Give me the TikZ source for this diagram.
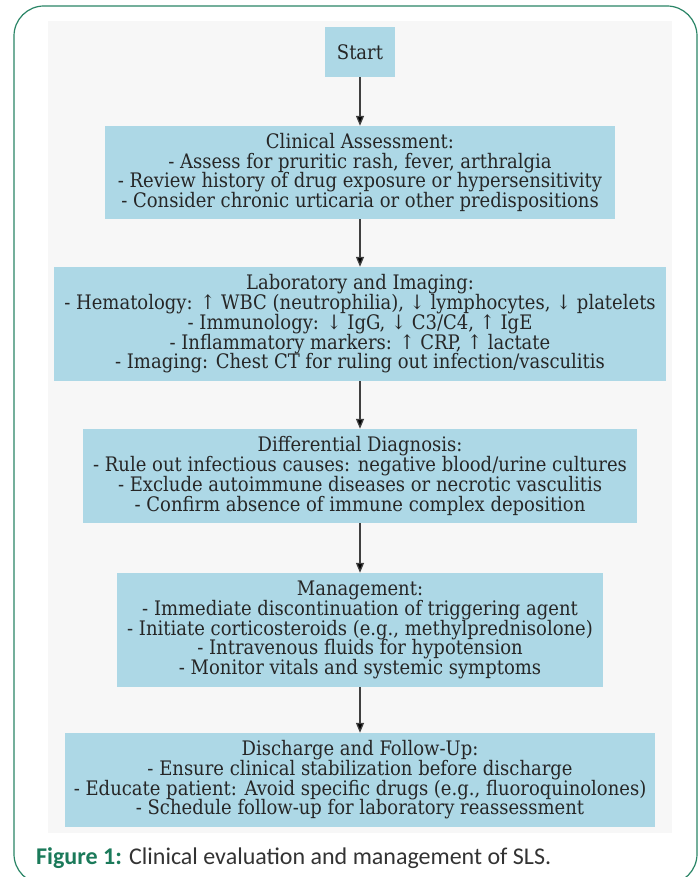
\documentclass[tikz,border=0pt]{standalone}
\usepackage{fontspec}
\setmainfont{DejaVu Serif Condensed}
\newfontfamily\capfont{Carlito}
\usetikzlibrary{arrows.meta}
\definecolor{boxblue}{HTML}{ADD8E6}
\definecolor{bggray}{HTML}{F7F7F7}
\definecolor{framegreen}{HTML}{2A8566}
\definecolor{figgreen}{HTML}{1B7A5A}
\definecolor{captext}{HTML}{333333}
\tikzset{
  stepbox/.style={fill=boxblue, draw=none, align=center, inner sep=0pt,
    font=\fontsize{20}{19.7}\selectfont, text=black!85},
  flowarrow/.style={draw=black!75, line width=1.3pt,
    -{Triangle[length=10pt,width=8pt,fill=black]}}
}
\begin{document}
\begin{tikzpicture}[x=1pt,y=-1pt]
\useasboundingbox (0,0) rectangle (700,877);
\fill[white] (0,0) rectangle (700,877);
\draw[framegreen, line width=1.2pt, rounded corners=30pt] (14,6) rectangle (697,884);
\fill[bggray] (48,21) rectangle (672,833);

\node[stepbox, minimum width=70pt, minimum height=50pt] (start) at (360,52) {Start};
\node[stepbox, minimum width=510pt, minimum height=93pt] (clin) at (360,172.5) {Clinical Assessment:\\
- Assess for pruritic rash, fever, arthralgia\\
- Review history of drug exposure or hypersensitivity\\
- Consider chronic urticaria or other predispositions};
\node[stepbox, minimum width=612pt, minimum height=114pt] (lab) at (360,324) {Laboratory and Imaging:\\
- Hematology: ↑ WBC (neutrophilia), ↓ lymphocytes, ↓ platelets\\
- Immunology: ↓ IgG, ↓ C3/C4, ↑ IgE\\
- Inflammatory markers: ↑ CRP, ↑ lactate\\
- Imaging: Chest CT for ruling out infection/vasculitis};
\node[stepbox, minimum width=554pt, minimum height=94pt] (diff) at (360,476) {Differential Diagnosis:\\
- Rule out infectious causes: negative blood/urine cultures\\
- Exclude autoimmune diseases or necrotic vasculitis\\
- Confirm absence of immune complex deposition};
\node[stepbox, minimum width=486pt, minimum height=114pt] (mgmt) at (360,630) {Management:\\
- Immediate discontinuation of triggering agent\\
- Initiate corticosteroids (e.g., methylprednisolone)\\
- Intravenous fluids for hypotension\\
- Monitor vitals and systemic symptoms};
\node[stepbox, minimum width=590pt, minimum height=94pt] (dis) at (360,780) {Discharge and Follow-Up:\\
- Ensure clinical stabilization before discharge\\
- Educate patient: Avoid specific drugs (e.g., fluoroquinolones)\\
- Schedule follow-up for laboratory reassessment};

\draw[flowarrow] (start) -- (clin);
\draw[flowarrow] (clin) -- (lab);
\draw[flowarrow] (lab) -- (diff);
\draw[flowarrow] (diff) -- (mgmt);
\draw[flowarrow] (mgmt) -- (dis);

\node[anchor=west, inner sep=0pt, font=\capfont\fontsize{24}{28}\selectfont, text=captext] (cap) at (36,858)
  {\textcolor{figgreen}{\textbf{Figure 1:}} Clinical evaluation and management of SLS.};
\end{tikzpicture}
\end{document}
